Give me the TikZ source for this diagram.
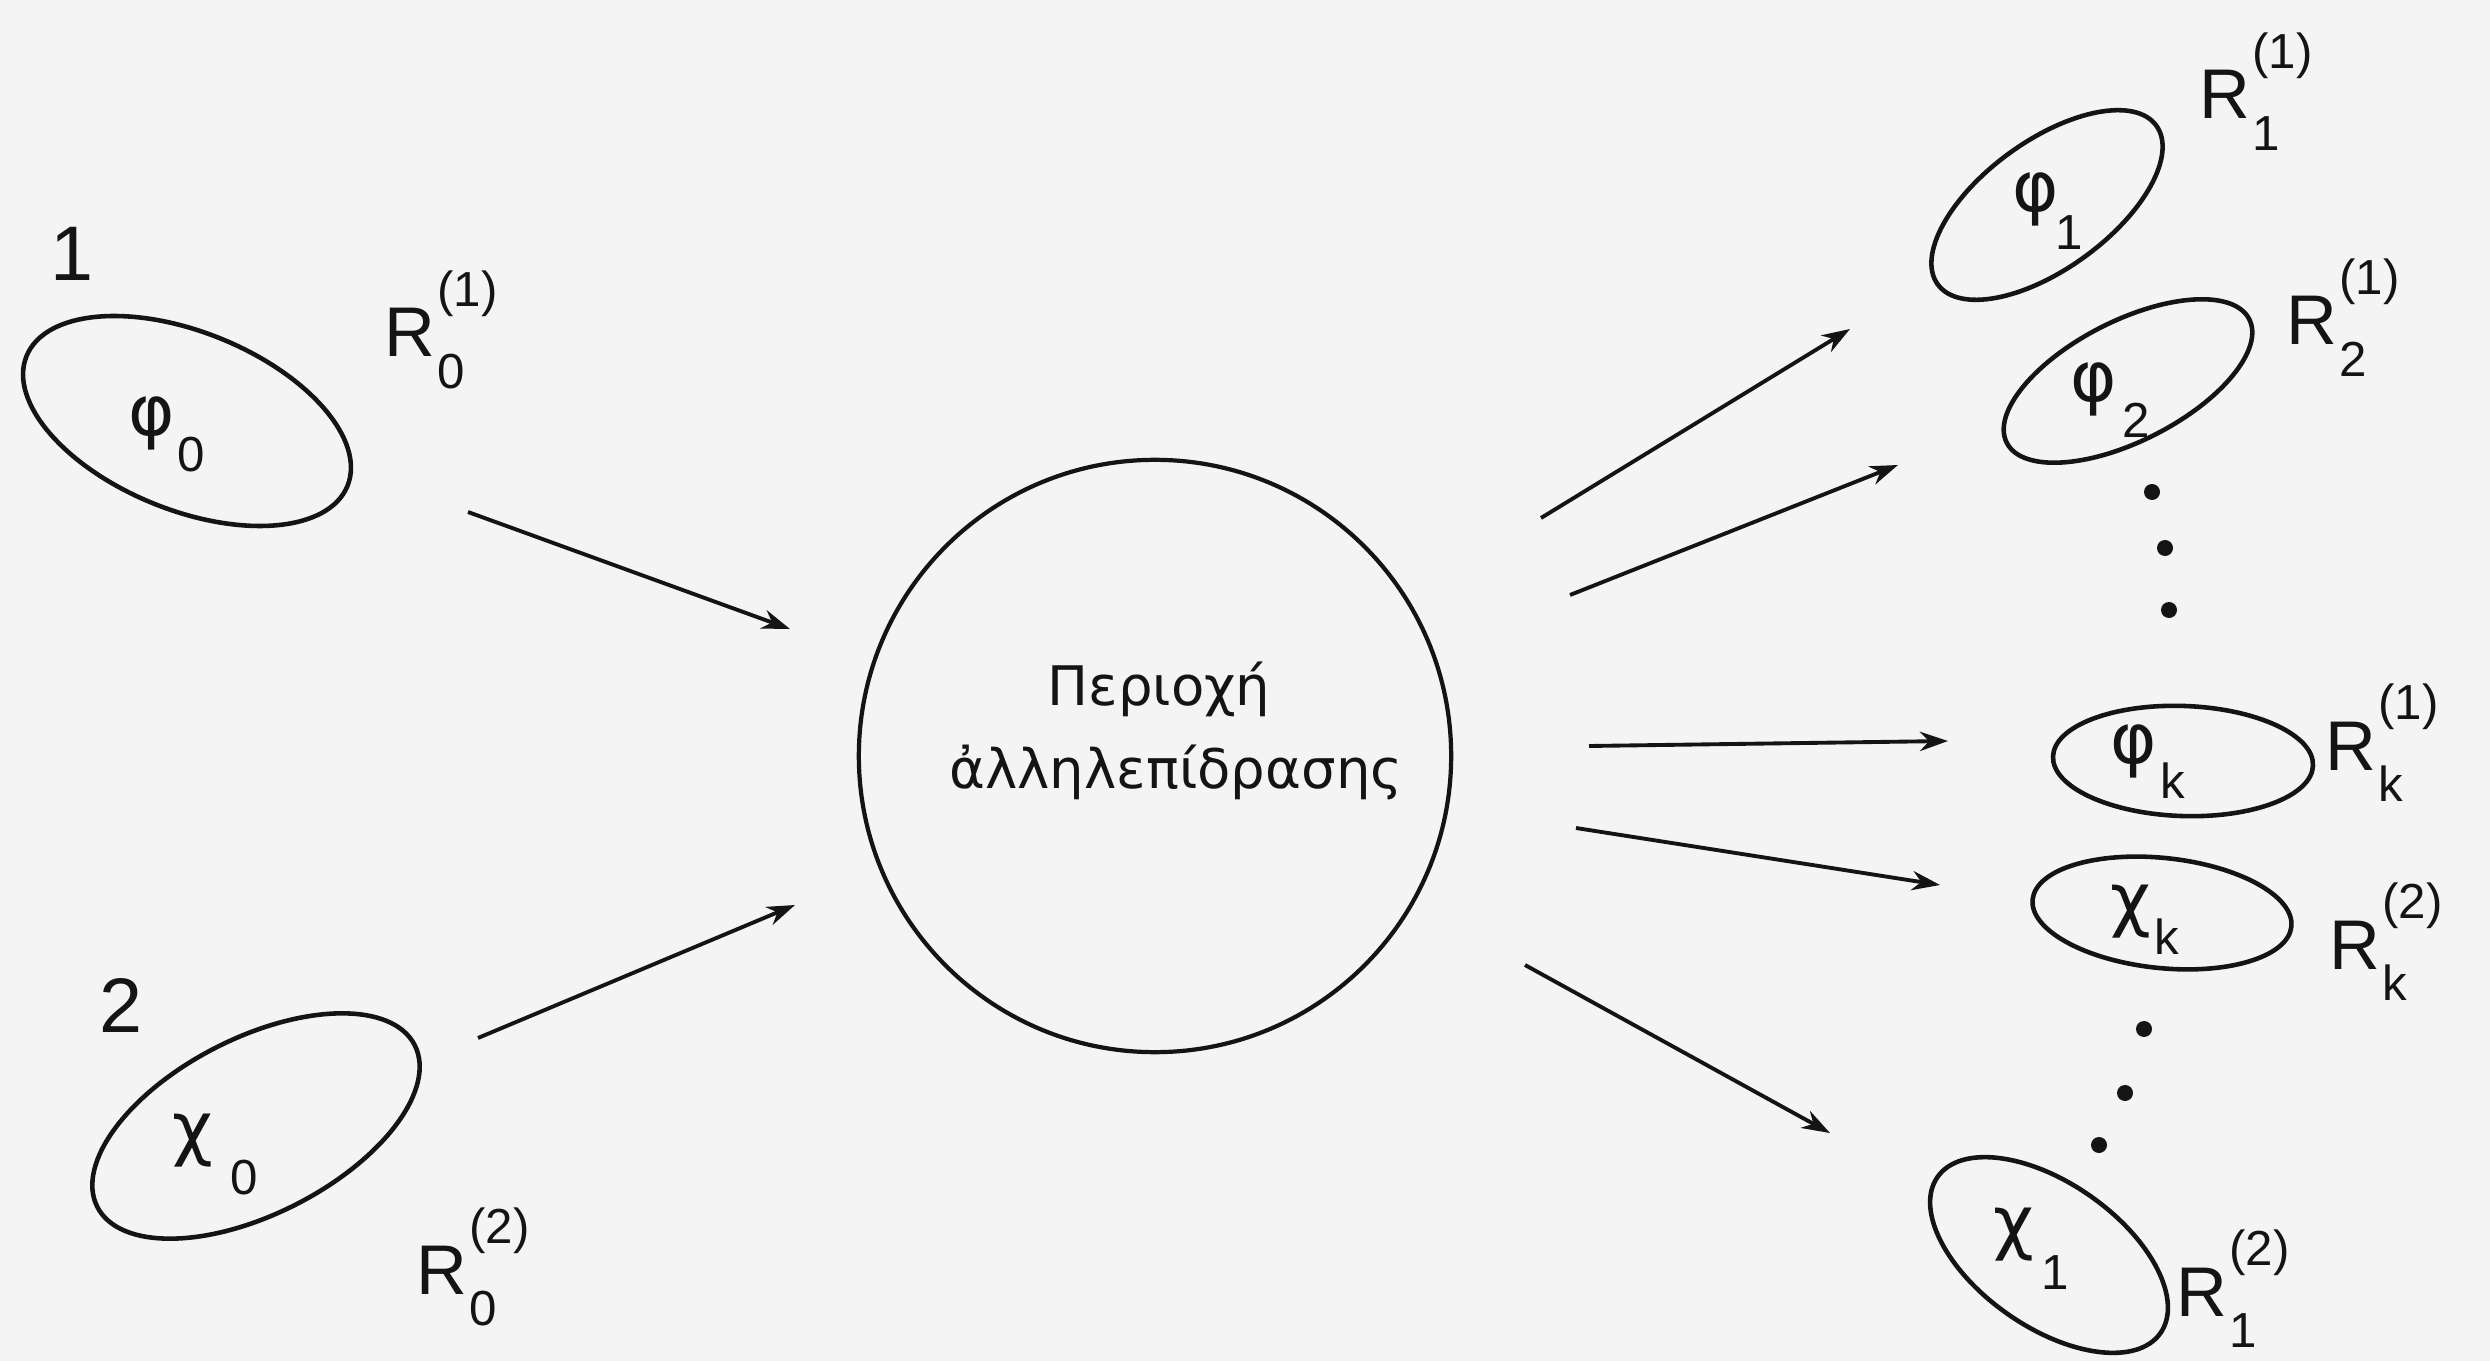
\documentclass[tikz,border=0pt]{standalone}
\usepackage{fontspec}
\setmainfont{Liberation Sans}
\newfontfamily\grk{DejaVu Sans}
\usetikzlibrary{shapes.geometric,arrows.meta}
\definecolor{bg}{HTML}{F4F4F4}
\definecolor{ink}{HTML}{141414}
\newcommand{\subfnt}{\fontsize{14}{14}\selectfont}
\newcommand{\Rlab}[2]{R\kern0.5pt\rlap{\raisebox{14.5pt}{\subfnt #1}}\raisebox{-9pt}{\subfnt #2}}
\newcommand{\Glab}[4]{{\grk #1}\kern#3\raisebox{-#4}{\subfnt #2}}
\begin{document}
\begin{tikzpicture}[x=0.01cm,y=-0.01cm,
  ell/.style={draw=ink, line width=1.3pt, ellipse, inner sep=0pt},
  arr/.style={draw=ink, line width=1.1pt, -{Stealth[length=8pt,width=5.5pt]}},
  dotn/.style={circle, fill=ink, inner sep=0pt, minimum size=0.16cm},
  lab/.style={anchor=base west, inner sep=0pt, text=ink, font=\fontsize{20}{20}\selectfont},
  num/.style={inner sep=0pt, text=ink, font=\fontsize{22}{22}\selectfont},
  ctext/.style={inner sep=0pt, text=ink, font=\grk\fontsize{15.5}{15.5}\selectfont}]
\useasboundingbox (0,0) rectangle (2490,1361);
\fill[bg] (0,0) rectangle (2490,1361);

% interaction region
\node[draw=ink, line width=1.2pt, circle, minimum size=5.92cm, inner sep=0pt] (reg) at (1155,756) {};
\node[ctext] (t1) at (1159,689) {Περιοχή};
\node[ctext] (t2) at (1176,772) {ἀλληλεπίδρασης};

% left ellipses
\node[ell, minimum width=3.46cm, minimum height=1.78cm, rotate=-22] (e0) at (187,421) {};
\node[ell, minimum width=3.56cm, minimum height=1.76cm, rotate=27] (x0) at (256,1126) {};
\node[num] (n1) at (72,254) {1};
\node[num] (n2) at (121,1005) {2};
\node[lab] (l0) at (128,436) {\Glab{φ}{0}{0.8pt}{10pt}};
\node[lab] (lx0) at (172,1152) {\Glab{χ}{0}{5pt}{12pt}};
\node[lab] (r01) at (384,357) {\Rlab{(1)}{0}};
\node[lab] (r02) at (416,1294) {\Rlab{(2)}{0}};

% right ellipses
\node[ell, minimum width=2.70cm, minimum height=1.28cm, rotate=36] (e1) at (2047,205) {};
\node[ell, minimum width=2.72cm, minimum height=1.20cm, rotate=27] (e2) at (2128,381) {};
\node[ell, minimum width=2.60cm, minimum height=1.10cm, rotate=-2] (ek) at (2183,761) {};
\node[ell, minimum width=2.60cm, minimum height=1.10cm, rotate=-6] (xk) at (2162,913) {};
\node[ell, minimum width=2.72cm, minimum height=1.44cm, rotate=-35] (x1) at (2049,1255) {};

\node[lab] (l1) at (2012,212) {\Glab{φ}{1}{-1pt}{10.8pt}};
\node[lab] (l2) at (2070,402) {\Glab{φ}{2}{1.5pt}{10pt}};
\node[lab] (lk) at (2110,763) {\Glab{φ}{k}{1pt}{10pt}};
\node[lab] (lxk) at (2110,923) {\Glab{χ}{k}{1pt}{9pt}};
\node[lab] (lx1) at (1993,1246) {\Glab{χ}{1}{2pt}{12.5pt}};

\node[lab] (r11) at (2199,119) {\Rlab{(1)}{1}};
\node[lab] (r21) at (2286,345) {\Rlab{(1)}{2}};
\node[lab] (rk1) at (2325,770) {\Rlab{(1)}{k}};
\node[lab] (rk2) at (2329,969) {\Rlab{(2)}{k}};
\node[lab] (r12) at (2176,1316) {\Rlab{(2)}{1}};

% dots
\node[dotn] (d1) at (2152,492) {};
\node[dotn] (d2) at (2165,548) {};
\node[dotn] (d3) at (2169,610) {};
\node[dotn] (d4) at (2144,1029) {};
\node[dotn] (d5) at (2125,1093) {};
\node[dotn] (d6) at (2099,1145) {};

% arrows
\coordinate (a1s) at (468,512); \coordinate (a1e) at (790,629);
\coordinate (a2s) at (478,1038); \coordinate (a2e) at (795,905);
\coordinate (a3s) at (1541,518); \coordinate (a3e) at (1850,329);
\coordinate (a4s) at (1570,595); \coordinate (a4e) at (1898,465);
\coordinate (a5s) at (1589,746); \coordinate (a5e) at (1948,741);
\coordinate (a6s) at (1576,828); \coordinate (a6e) at (1940,885);
\coordinate (a7s) at (1525,965); \coordinate (a7e) at (1830,1133);
\draw[arr] (a1s) -- (a1e);
\draw[arr] (a2s) -- (a2e);
\draw[arr] (a3s) -- (a3e);
\draw[arr] (a4s) -- (a4e);
\draw[arr] (a5s) -- (a5e);
\draw[arr] (a6s) -- (a6e);
\draw[arr] (a7s) -- (a7e);
\end{tikzpicture}
\end{document}
